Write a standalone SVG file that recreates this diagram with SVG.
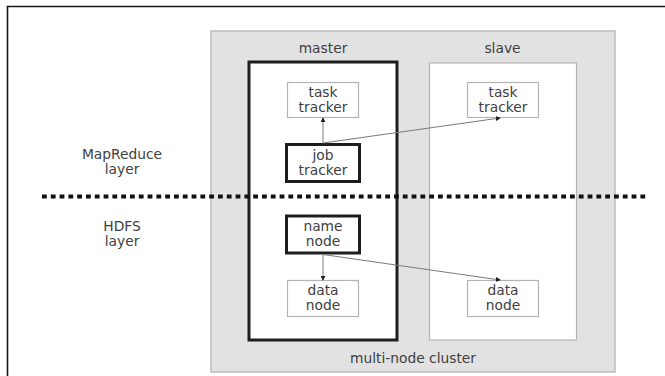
<svg xmlns="http://www.w3.org/2000/svg" width="665" height="376" viewBox="0 0 665 376">
<style>
  text { font-family: "DejaVu Sans", Verdana, sans-serif; font-size: 13.8px; fill: #404040; text-anchor: middle; }
  .box { fill: #ffffff; stroke: #b4b4b4; stroke-width: 1.2; }
  .thick { fill: #ffffff; stroke: #1e1e1e; stroke-width: 3; }
  .conn { stroke: #7a7a7a; stroke-width: 1; fill: none; marker-end: url(#arr); }
</style>
<defs>
  <marker id="arr" viewBox="0 0 6 6" refX="5" refY="3" markerWidth="5" markerHeight="5" markerUnits="userSpaceOnUse" orient="auto">
    <path d="M0,0 L6,3 L0,6 Z" fill="#1e1e1e"/>
  </marker>
</defs>
<rect width="665" height="376" fill="#ffffff"/>
<path d="M7.5,376 V6.5 H665" fill="none" stroke="#151515" stroke-width="1.6"/>

<g id="cluster">
  <rect x="211" y="31" width="404" height="341" fill="#e2e2e2" stroke="#bdbdbd" stroke-width="1.5"/>
  <text x="413" y="363">multi-node cluster</text>
</g>

<g id="master">
  <rect x="249" y="62" width="148" height="278" class="thick"/>
  <text x="323" y="53">master</text>
</g>

<g id="slave">
  <rect x="429.5" y="63" width="147" height="277" class="box"/>
  <text x="502.5" y="53">slave</text>
</g>

<g id="labels">
  <text x="122" y="159">MapReduce</text>
  <text x="122" y="174">layer</text>
  <text x="122" y="230.5">HDFS</text>
  <text x="122" y="245.5">layer</text>
</g>

<line id="layer-divider" x1="42" y1="196.5" x2="648" y2="196.5" stroke="#111111" stroke-width="4" stroke-dasharray="4.8 4"/>

<g id="master-task-tracker">
  <rect x="287.5" y="82.5" width="71" height="35" class="box"/>
  <text x="323" y="97">task</text>
  <text x="323" y="112">tracker</text>
</g>

<g id="job-tracker">
  <rect x="286.5" y="144.5" width="73" height="37" class="thick"/>
  <text x="323" y="160">job</text>
  <text x="323" y="175">tracker</text>
</g>

<g id="name-node">
  <rect x="286.5" y="216" width="73" height="37" class="thick"/>
  <text x="323" y="231">name</text>
  <text x="323" y="246">node</text>
</g>

<g id="master-data-node">
  <rect x="287.5" y="280.5" width="71" height="36" class="box"/>
  <text x="323" y="294.5">data</text>
  <text x="323" y="309.5">node</text>
</g>

<g id="slave-task-tracker">
  <rect x="467.5" y="82.5" width="71" height="35" class="box"/>
  <text x="503" y="97">task</text>
  <text x="503" y="112">tracker</text>
</g>

<g id="slave-data-node">
  <rect x="467.5" y="280.5" width="71" height="36" class="box"/>
  <text x="503" y="294.5">data</text>
  <text x="503" y="309.5">node</text>
</g>

<g id="connectors">
  <line x1="323" y1="143" x2="323" y2="118" class="conn"/>
  <line x1="323" y1="143" x2="500" y2="118" class="conn"/>
  <line x1="323" y1="254.5" x2="323" y2="280" class="conn"/>
  <line x1="323" y1="254.5" x2="500" y2="280" class="conn"/>
</g>
</svg>
